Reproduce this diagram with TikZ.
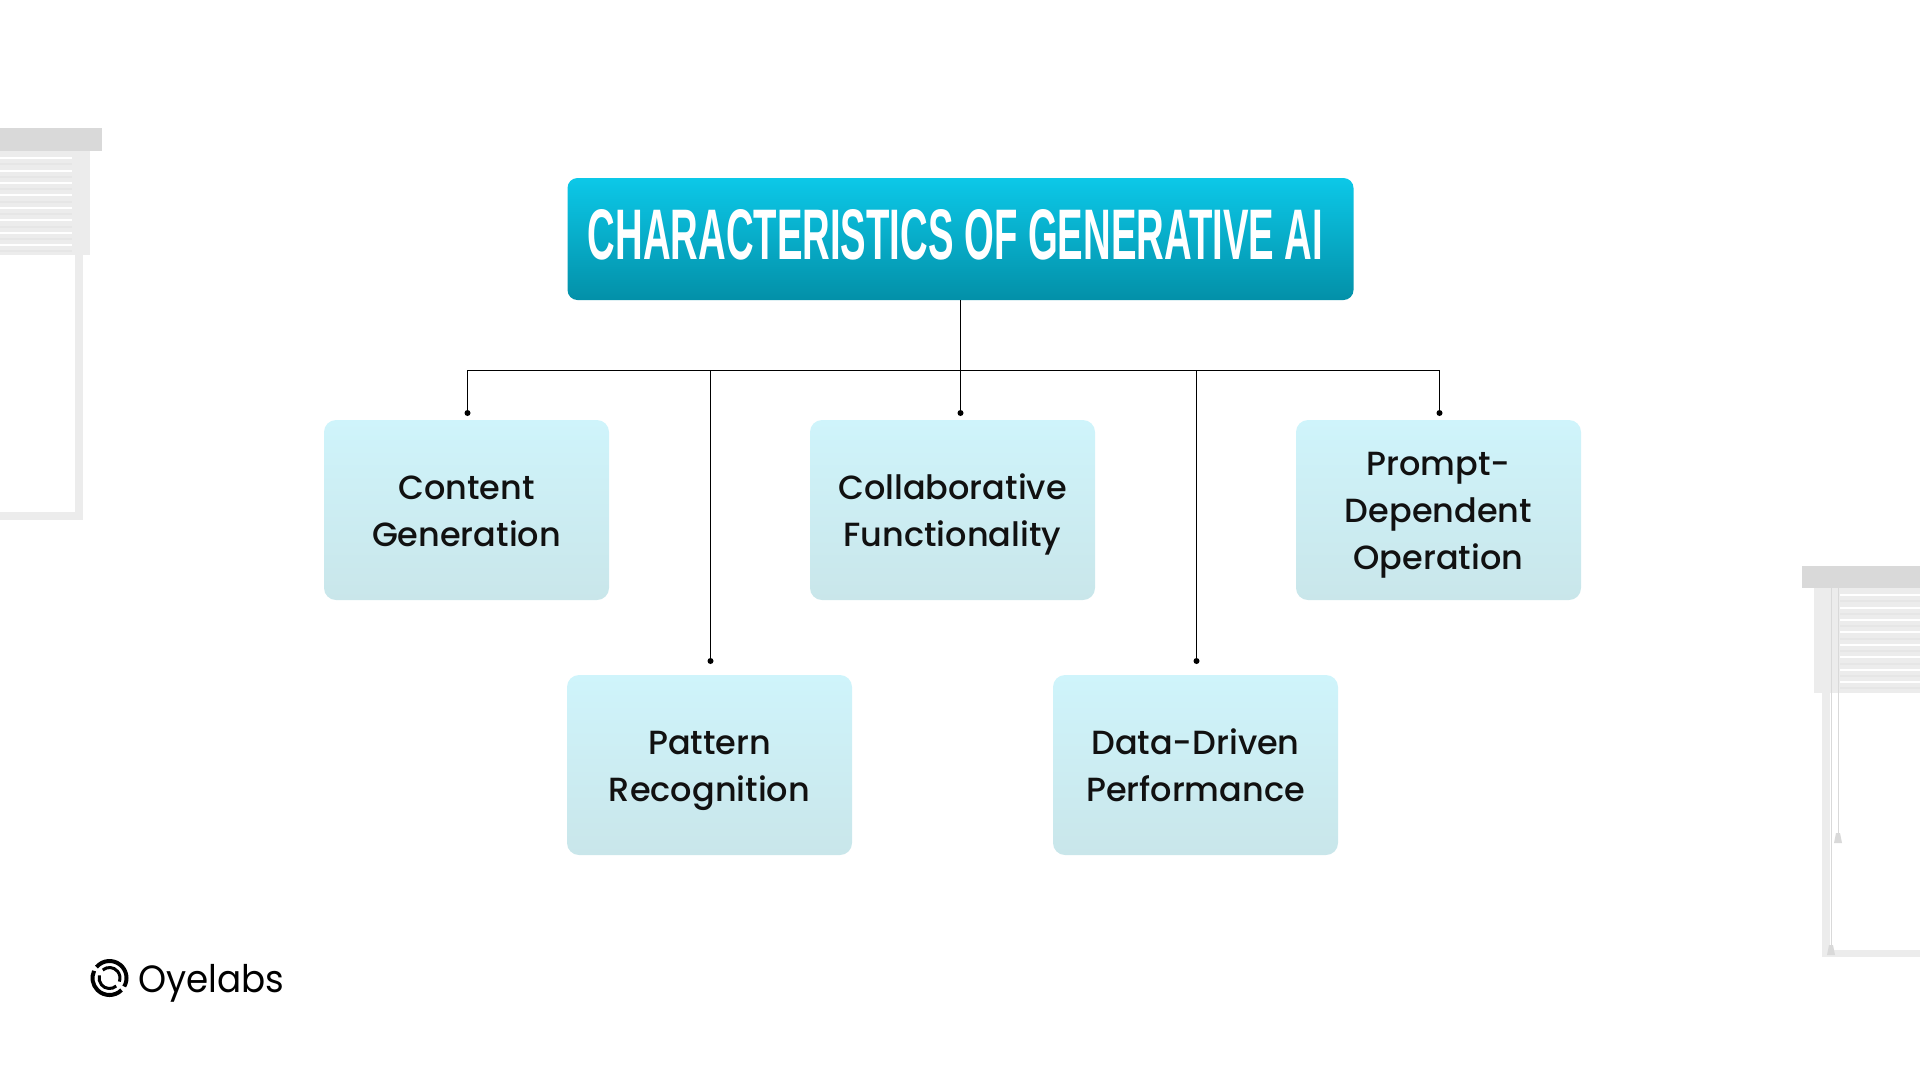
\documentclass[tikz,border=0pt]{standalone}
\usepackage{fontspec}
\setmainfont{Poppins}[UprightFont=* Medium]
\newfontfamily\titlefont{Liberation Sans}
\newfontfamily\logofont{Poppins}
\usepackage{tikz}
\usetikzlibrary{positioning}
\definecolor{oyeteal}{RGB}{12,200,232}
\definecolor{oyetealdark}{RGB}{3,144,168}
\definecolor{oyelight}{RGB}{207,244,251}
\definecolor{oyelightdark}{RGB}{201,230,234}
\definecolor{oyeink}{RGB}{17,17,17}
\definecolor{blindbar}{RGB}{217,217,217}
\definecolor{blindslat}{RGB}{236,236,236}
\definecolor{blindline}{RGB}{230,230,230}
\newcommand{\itemline}{\rule[-10.8pt]{0pt}{47pt}}
\tikzstyle{titlebox} = [rectangle, rounded corners=10pt, minimum width=786pt, minimum height=122pt, top color=oyeteal, bottom color=oyetealdark, inner sep=0pt]
\tikzstyle{itembox} = [rectangle, rounded corners=12pt, minimum width=285pt, minimum height=180pt, top color=oyelight, bottom color=oyelightdark, inner sep=0pt, align=center, text=oyeink, font=\fontsize{33.5}{47}\selectfont]
\tikzstyle{dotmark} = [circle, fill=black, inner sep=0pt, minimum size=6pt]
\tikzstyle{wire} = [line width=1pt, color=black]

\begin{document}
\begin{tikzpicture}[x=1pt, y=-1pt]
\useasboundingbox (0,0) rectangle (1920,1080);

% Left blind
\fill[blindslat] (75,151) rectangle (83,520);
\fill[blindslat] (0,512) rectangle (83,520);
\fill[blindslat] (0,151) rectangle (90,255);
\foreach \y in {157,170,182,194,207,219,232,244}
  \fill[white] (0,\y) rectangle (72,\y+1.5);
\foreach \y in {163,176,188,201,213,226,238,250}
  \fill[blindline] (0,\y) rectangle (72,\y+2);
\fill[blindbar] (0,128) rectangle (102,151);

% Right blind
\fill[blindslat] (1822,588) rectangle (1830,957);
\fill[blindslat] (1822,950) rectangle (1920,957);
\fill[blindslat] (1814,588) rectangle (1920,693);
\foreach \y in {594,607,619,631,644,656,669,681}
  \fill[white] (1840,\y) rectangle (1920,\y+1.5);
\foreach \y in {600,613,625,638,650,663,675,687}
  \fill[blindline] (1840,\y) rectangle (1920,\y+2);
\fill[blindbar] (1802,566) rectangle (1920,588);
\draw[blindbar, line width=1pt] (1831,588) -- (1831,945);
\draw[blindbar, line width=1pt] (1838,588) -- (1838,833);
\fill[blindbar] (1836,833) -- (1840,833) -- (1842,843) -- (1834,843) -- cycle;
\fill[blindbar] (1829,945) -- (1833,945) -- (1835,955) -- (1827,955) -- cycle;

% Title
\node (title) [titlebox] at (960.5,239) {};
\node (titletext) at (955.5,235) {\resizebox{735pt}{50pt}{\titlefont\bfseries\color{white}CHARACTERISTICS OF GENERATIVE AI}};

% Items
\node (content) [itembox] at (466.5,510) {\itemline Content\\\itemline Generation};
\node (pattern) [itembox] at (709.5,765) {\itemline Pattern\\\itemline Recognition};
\node (collab) [itembox] at (952.5,510) {\itemline Collaborative\\\itemline Functionality};
\node (driven) [itembox] at (1195.5,765) {\itemline Data-Driven\\\itemline Performance};
\node (prompt) [itembox] at (1438.5,510) {\itemline Prompt-\\\itemline Dependent\\\itemline Operation};

% Connector ends
\coordinate (bus) at (960.5,370.5);
\node (dotcontent) [dotmark] at (467.5,413) {};
\node (dotpattern) [dotmark] at (710.5,661) {};
\node (dotcollab) [dotmark] at (960.5,413) {};
\node (dotdriven) [dotmark] at (1196.5,661) {};
\node (dotprompt) [dotmark] at (1439.5,413) {};

% Connectors
\draw[wire] (title.south) -- (dotcollab);
\draw[wire] (dotcontent) |- (bus) -| (dotprompt);
\draw[wire] (dotpattern) -- (dotpattern |- bus);
\draw[wire] (dotdriven) -- (dotdriven |- bus);

% Logo
\draw[black, line width=4pt] (109.5,978) ++(-140:17) arc (-140:30:17);
\draw[black, line width=4pt] (109.5,978) ++(45:17) arc (45:205:17);
\draw[black, line width=3pt] (109.5,978) ++(-130:10.5) arc (-130:20:10.5);
\draw[black, line width=3pt] (109.5,978) ++(50:10.5) arc (50:195:10.5);
\node (logotext) [anchor=base west, inner sep=0pt, text=black, font=\logofont\fontsize{38}{38}\selectfont] at (138,992) {\scalebox{0.94}[1]{Oyelabs}};
\end{tikzpicture}
\end{document}
